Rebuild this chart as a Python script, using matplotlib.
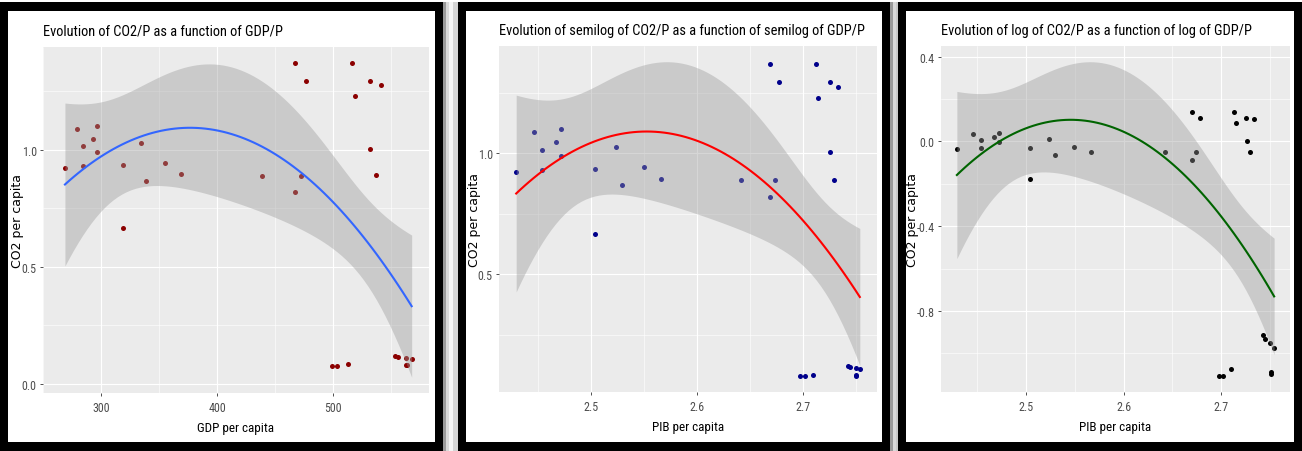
import numpy as np
import matplotlib
matplotlib.use("Agg")
import matplotlib.pyplot as plt
from matplotlib.patches import Rectangle
from matplotlib import font_manager as fm
from matplotlib.textpath import TextPath
from matplotlib.ft2font import FT2Font

# GDP per capita and CO2 per capita
gdp = np.array([268.9, 279.6, 296.6, 293.2, 284.5, 296.6, 284.5, 319.3, 334.0, 338.6,
                354.7, 368.6, 319.3, 467.4, 476.5, 516.1, 531.4, 541.6, 518.4, 531.9,
                536.8, 438.8, 472.2, 467.4, 498.8, 503.7, 512.4, 553.2, 556.1, 562.3,
                562.8, 563.4, 567.6])
co2 = np.array([0.923, 1.089, 1.100, 1.047, 1.014, 0.990, 0.931, 0.934, 1.027, 0.867,
                0.943, 0.895, 0.667, 1.370, 1.294, 1.370, 1.294, 1.275, 1.227, 1.004,
                0.891, 0.887, 0.887, 0.820, 0.078, 0.078, 0.084, 0.122, 0.117, 0.112,
                0.082, 0.080, 0.106])

titles = ["Evolution of CO2/P as a function of GDP/P",
          "Evolution of semilog of CO2/P as a function of semilog of GDP/P",
          "Evolution of log of CO2/P as a function of log of GDP/P"]
xlabels = ["GDP per capita", "PIB per capita", "PIB per capita"]
ylabel = "CO2 per capita"

plt.rcParams['axes.unicode_minus'] = False
W, H = 1302, 452


# the reference text is tall and narrow: pick the installed sans face closest to that shape
def pick_font():
    strip = {'narrow', 'condensed', 'semicondensed', 'extracondensed', 'semi', 'extra'}
    base = {'liberation sans', 'dejavu sans', 'noto sans', 'roboto', 'open sans', 'lato', 'inter'}
    best, best_err = None, 1e9
    for f in fm.fontManager.ttflist:
        nm = f.name.lower()
        if f.style != 'normal' or f.weight not in (400, 'normal', 'regular', 'book'):
            continue
        if ' '.join(w for w in nm.split() if w not in strip) not in base:
            continue
        try:
            if ord('E') not in FT2Font(f.fname).get_charmap():
                continue
            fp = fm.FontProperties(fname=f.fname, size=10)
            w = TextPath((0, 0), titles[0], prop=fp).get_extents().width
            h = TextPath((0, 0), 'E', prop=fp).get_extents().height
        except Exception:
            continue
        err = abs(w / h - 19.5)
        if err < best_err:
            best, best_err = f.fname, err
    return best


FONT = pick_font()


def fprop(text, target_px):
    # font size that makes `text` about target_px wide
    fp = fm.FontProperties(fname=FONT, size=10)
    w = TextPath((0, 0), text, prop=fp).get_extents().width * 100 / 72
    return fm.FontProperties(fname=FONT, size=10 * target_px / w)


TITLE_FP = fprop(titles[0], 239)
XLAB_FP = fprop(xlabels[0], 76)
TICK_FP = fprop("300", 16.5)


def quad_fit(x, y, xe):
    # y ~ poly(x, 2) with 95% confidence band
    m, sd = x.mean(), x.std()
    X = np.column_stack([np.ones_like(x), (x - m) / sd, ((x - m) / sd) ** 2])
    Xe = np.column_stack([np.ones_like(xe), (xe - m) / sd, ((xe - m) / sd) ** 2])
    beta = np.linalg.lstsq(X, y, rcond=None)[0]
    res = y - X @ beta
    df = len(x) - 3
    s2 = res @ res / df
    XtXi = np.linalg.inv(X.T @ X)
    fit = Xe @ beta
    se = np.sqrt(s2 * np.sum((Xe @ XtXi) * Xe, axis=1))
    z = 1.959964
    t = z + (z ** 3 + z) / (4 * df) + (5 * z ** 5 + 16 * z ** 3 + 3 * z) / (96 * df ** 2)
    return fit, fit - t * se, fit + t * se


def px_axes(fig, x0, y0, x1, y1):
    return fig.add_axes([x0 / W, 1 - y1 / H, (x1 - x0) / W, (y1 - y0) / H])


def px_rect(fig, x0, y0, x1, y1, color, z):
    fig.add_artist(Rectangle((x0 / W, 1 - y1 / H), (x1 - x0) / W, (y1 - y0) / H,
                             transform=fig.transFigure, facecolor=color, lw=0, zorder=z))


def frame(fig, x0, y0, x1, y1, b=8):
    px_rect(fig, x0, y0, x1, y1, 'black', -10)
    px_rect(fig, x0 + b, y0 + 9, x1 - b, y1 - 9, 'white', -9)


def panel(ax, x, y, pcol, lcol, title, xlabel, xmaj, xmin, ymaj, ymin, xfmt, ylab_off):
    xs = np.linspace(x.min(), x.max(), 80)
    fit, lo, hi = quad_fit(x, y, xs)
    ax.set_facecolor('#EBEBEB')
    ax.scatter(x, y, s=13, color=pcol, lw=0, zorder=2)
    ax.fill_between(xs, lo, hi, color='#999999', alpha=0.4, lw=0, zorder=3)
    ax.plot(xs, fit, color=lcol, lw=1.5, zorder=4)

    xr = x.max() - x.min()
    ax.set_xlim(x.min() - 0.05 * xr, x.max() + 0.05 * xr)
    ylo = min(y.min(), lo.min())
    yhi = max(y.max(), hi.max())
    yr = yhi - ylo
    ax.set_ylim(ylo - 0.05 * yr, yhi + 0.05 * yr)

    ax.set_xticks(xmaj)
    ax.set_xticklabels([xfmt.format(v) for v in xmaj])
    ax.set_xticks(xmin, minor=True)
    ax.set_yticks(ymaj)
    ax.set_yticklabels(['{:.1f}'.format(v) for v in ymaj])
    ax.set_yticks(ymin, minor=True)
    ax.grid(True, which='major', color='white', lw=0.8)
    ax.grid(True, which='minor', color='white', lw=0.4)
    ax.set_axisbelow(True)
    for sp in ax.spines.values():
        sp.set_visible(False)
    ax.tick_params(which='major', length=2.5, width=0.6, color='#333333',
                   labelcolor='#4D4D4D')
    ax.tick_params(axis='x', which='major', pad=3.5)
    ax.tick_params(axis='y', which='major', pad=2)
    ax.tick_params(which='minor', length=0)
    for lab in ax.get_xticklabels() + ax.get_yticklabels():
        lab.set_fontproperties(TICK_FP)

    ax.set_title(title, loc='left', fontproperties=TITLE_FP, pad=9)
    ax.set_xlabel(xlabel, fontproperties=XLAB_FP, labelpad=5)
    ax.set_ylabel(ylabel, fontsize=9, family='DejaVu Sans')
    bb = ax.get_position()
    ax.yaxis.set_label_coords(-ylab_off / (bb.width * W), 0.5)


fig = plt.figure(figsize=(13.02, 4.52), dpi=100)
frame(fig, 0, 3, 443, 452)
frame(fig, 458, 3, 890, 452)
frame(fig, 898, 3, 1302, 452)
# soft shadow between the framed panels
for xa, xb, c in [(443, 446, '#9a9a9a'), (446, 449, '#d8d8d8'), (449, 453, '#f4f4f4'),
                  (453, 458, '#d4d4d4'), (890, 893, '#9a9a9a'), (893, 896, '#d8d8d8'),
                  (896, 898, '#c8c8c8')]:
    px_rect(fig, xa, 3, xb, 452, c, -10)

ax1 = px_axes(fig, 43, 48, 429, 394)
panel(ax1, gdp, co2, '#8B0000', '#3366FF', titles[0], xlabels[0],
      [300, 400, 500], [250, 350, 450, 550], [0.0, 0.5, 1.0], [0.25, 0.75, 1.25],
      '{:.0f}', 19)

ax2 = px_axes(fig, 499, 47, 877, 393)
panel(ax2, np.log10(gdp), co2, '#00008B', '#FF0000', titles[1], xlabels[1],
      [2.5, 2.6, 2.7], [2.45, 2.55, 2.65, 2.75], [0.5, 1.0], [0.25, 0.75, 1.25],
      '{:.1f}', 18)

ax3 = px_axes(fig, 941, 47, 1290, 393)
panel(ax3, np.log10(gdp), np.log10(co2), '#000000', '#006400', titles[2], xlabels[2],
      [2.5, 2.6, 2.7], [2.45, 2.55, 2.65, 2.75], [-0.8, -0.4, 0.0, 0.4],
      [-1.0, -0.6, -0.2, 0.2], '{:.1f}', 22)

fig.savefig('out.png', dpi=100)
